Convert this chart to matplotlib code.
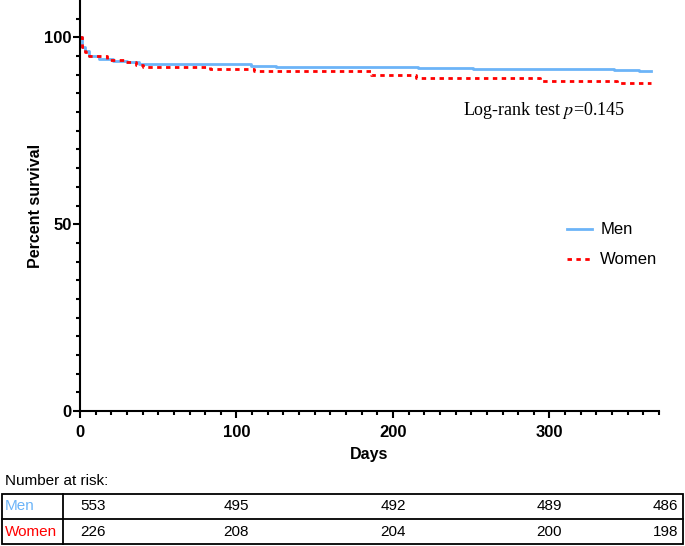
import matplotlib.pyplot as plt
from matplotlib.patches import Rectangle
from matplotlib.lines import Line2D
from matplotlib.transforms import blended_transform_factory

# Kaplan-Meier step data (days, percent survival)
men_days = [0, 1, 3, 6, 12, 21, 30, 38, 68, 109, 125, 216, 251, 281, 341, 357, 365]
men_surv = [100, 97.3, 96.4, 95.1, 94.2, 93.7, 93.3, 93.0, 92.8, 92.4, 92.1, 91.9, 91.6, 91.5, 91.2, 91.0, 91.0]
women_days = [0, 1, 3, 6, 17, 28, 36, 40, 83, 111, 186, 215, 294, 343, 365]
women_surv = [100, 97.5, 96.2, 95.1, 93.9, 93.5, 92.7, 92.1, 91.6, 91.0, 89.9, 89.0, 88.4, 87.7, 87.7]

risk_days = [0, 100, 200, 300, 365]
men_risk = [553, 495, 492, 489, 486]
women_risk = [226, 208, 204, 200, 198]

blue = '#6cb4f8'
red = '#ff0000'

plt.rcParams['font.family'] = ['Liberation Sans', 'DejaVu Sans']

fig = plt.figure(figsize=(6.85, 5.46), dpi=100)
ax = fig.add_axes([80/685, 1-411/546, 579/685, 411/546])

ax.step(men_days, men_surv, where='post', color=blue, lw=2.0, label='Men')
ax.step(women_days, women_surv, where='post', color=red, lw=2.0,
        linestyle=(0, (1.6, 1.6)), label='Women')

ax.set_xlim(0, 370)
ax.set_ylim(0, 110)
ax.set_xticks([0, 100, 200, 300])
ax.set_xticks(range(0, 371, 10), minor=True)
ax.set_yticks([0, 50, 100])
ax.set_yticks(range(0, 110, 5), minor=True)
for s in ['top', 'right']:
    ax.spines[s].set_visible(False)
for s in ['left', 'bottom']:
    ax.spines[s].set_linewidth(1.5)
ax.tick_params(which='major', length=5, width=1.5, labelsize=12)
ax.tick_params(which='minor', length=3, width=1.5)
ax.tick_params(axis='x', pad=5)
ax.tick_params(axis='y', pad=1)
for lab in ax.get_xticklabels() + ax.get_yticklabels():
    lab.set_fontweight('bold')
ax.set_xlabel('Days', fontsize=11.5, fontweight='bold', labelpad=5)
ax.set_ylabel('Percent survival', fontsize=11.5, fontweight='bold', labelpad=1)

ax.text(0.801, 0.732, 'Log-rank test $p$=0.145', transform=ax.transAxes,
        family='Liberation Serif', fontsize=13, ha='center', va='center',
        math_fontfamily='stix')

ax.legend(loc='center left', bbox_to_anchor=(0.815, 0.404), frameon=False,
          fontsize=12, handlelength=1.5, handletextpad=0.5, labelspacing=0.9)

# number at risk table
fig.text(5/685, 1-481/546, 'Number at risk:', fontsize=11, va='center')
top, mid, bot = 1-494/546, 1-519/546, 1-544/546
left, div, right = 2/685, 63/685, 683/685
fig.add_artist(Rectangle((left, bot), right-left, top-bot, transform=fig.transFigure,
                         fill=False, lw=1.3, edgecolor='black'))
fig.add_artist(Line2D([left, right], [mid, mid], transform=fig.transFigure, lw=1.3, color='black'))
fig.add_artist(Line2D([div, div], [bot, top], transform=fig.transFigure, lw=1.3, color='black'))

row_y = [(top+mid)/2, (mid+bot)/2]
fig.text(5/685, row_y[0], 'Men', color=blue, fontsize=11, va='center')
fig.text(5/685, row_y[1], 'Women', color=red, fontsize=11, va='center')

tr = blended_transform_factory(ax.transData, fig.transFigure)
for i, d in enumerate(risk_days):
    for y, vals in zip(row_y, [men_risk, women_risk]):
        if i == 0:
            fig.text(d, y, str(vals[i]), transform=tr, fontsize=11, va='center', ha='left')
        elif i == len(risk_days)-1:
            fig.text(right - 5/685, y, str(vals[i]), fontsize=11, va='center', ha='right')
        else:
            fig.text(d, y, str(vals[i]), transform=tr, fontsize=11, va='center', ha='center')

fig.savefig('out.png', dpi=100)
